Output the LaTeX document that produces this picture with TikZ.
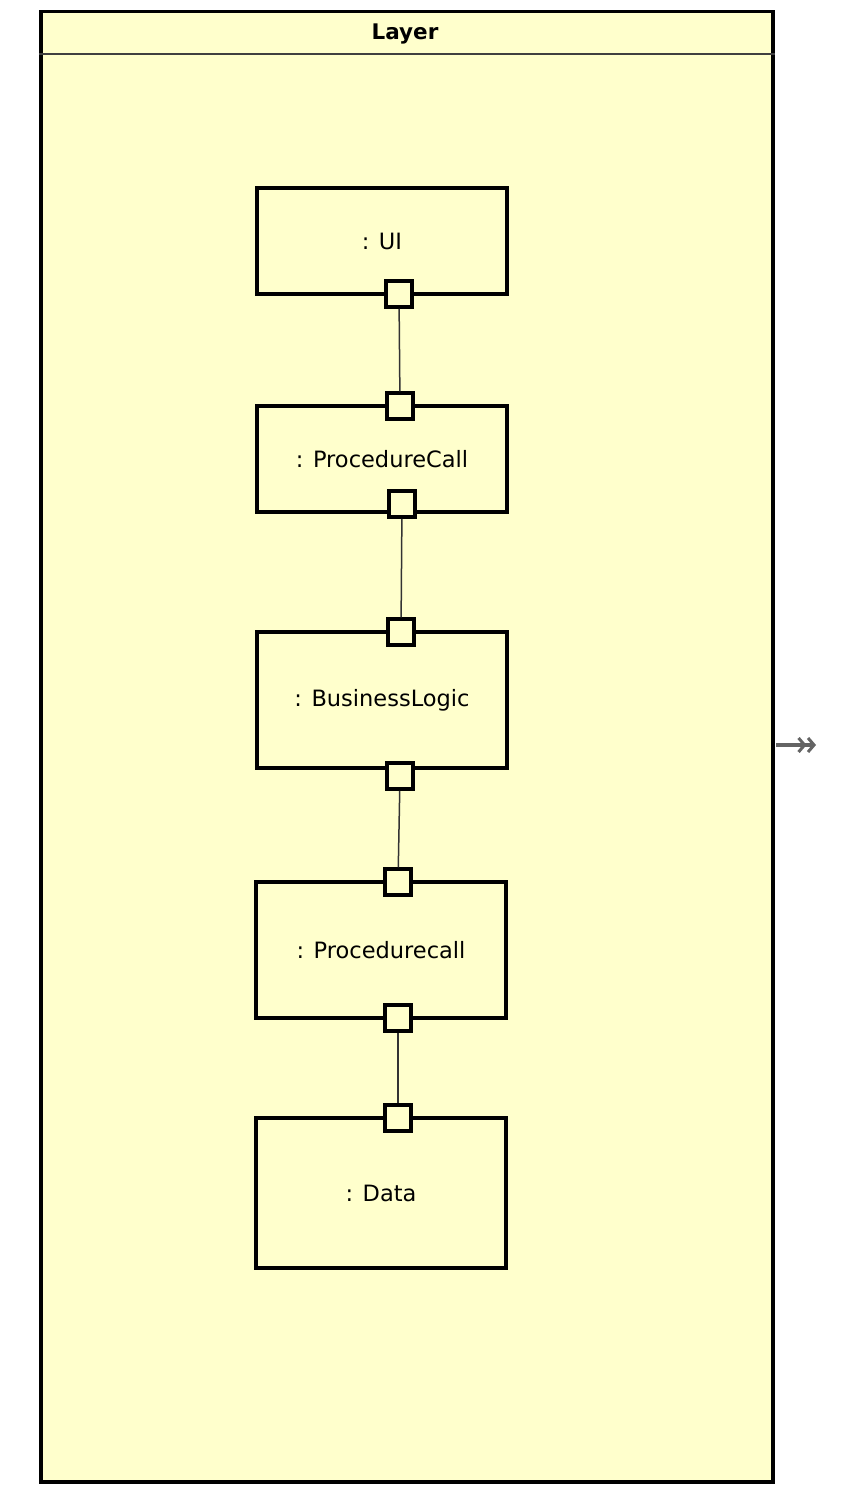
\documentclass[tikz,border=0pt]{standalone}
\usepackage{fontspec}
\setmainfont{DejaVu Sans}
\usetikzlibrary{arrows.meta}
\definecolor{notefill}{RGB}{255,255,204}
\definecolor{linkgray}{RGB}{100,100,100}
\begin{document}
\begin{tikzpicture}[x=1pt,y=-1pt,
  part/.style={draw=black, line width=3.5pt, fill=notefill, minimum width=250pt,
    inner sep=0pt, font=\fontsize{22.5}{26}\selectfont},
  port/.style={draw=black, line width=3.5pt, fill=notefill, minimum size=26pt, inner sep=0pt},
  wire/.style={draw=black!80, line width=1.5pt}]
\useasboundingbox (0,0) rectangle (862,1504);
% enclosing frame with title compartment
\node[draw=black, line width=3.5pt, fill=notefill, minimum width=732pt, minimum height=1470pt,
  inner sep=0pt, anchor=north west] (frame) at (39,10) {};
\draw[black!75, line width=1.6pt] (frame.west |- 0,54) -- (frame.east |- 0,54);
\node[font=\fontsize{21.5}{25}\selectfont\bfseries] (title) at (405,34) {Layer};
% parts
\node[part, minimum height=106pt] (ui) at (382,241) {: UI};
\node[part, minimum height=106pt] (pc1) at (382,459) {: ProcedureCall};
\node[part, minimum height=136pt] (bl) at (382,700) {: BusinessLogic};
\node[part, minimum height=136pt] (pc2) at (381,950) {: Procedurecall};
\node[part, minimum height=150pt] (data) at (381,1193) {: Data};
% ports
\node[port] (uiB) at (399,294) {};
\node[port] (pc1T) at (400,406) {};
\node[port] (pc1B) at (402,504) {};
\node[port] (blT) at (401,632) {};
\node[port] (blB) at (400,776) {};
\node[port] (pc2T) at (398,882) {};
\node[port] (pc2B) at (398,1018) {};
\node[port] (dataT) at (398,1118) {};
% connectors
\draw[wire] (uiB) -- (pc1T);
\draw[wire] (pc1B) -- (blT);
\draw[wire] (blB) -- (pc2T);
\draw[wire] (pc2B) -- (dataT);
% outgoing arrow on the right of the frame
\coordinate (outA) at (776,745);
\coordinate (outB) at (816,745);
\draw[linkgray, line width=3.5pt,
  -{Straight Barb[length=6pt,width=14pt,line width=3pt]Straight Barb[length=6pt,width=14pt,line width=3pt]}]
  (outA) -- (outB);
\end{tikzpicture}
\end{document}
